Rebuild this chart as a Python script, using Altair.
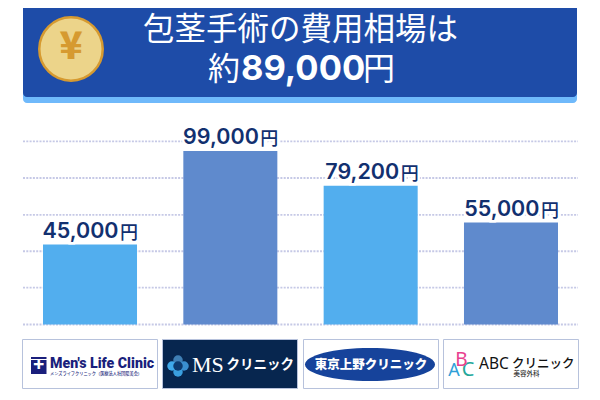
import altair as alt
import pandas as pd

clinics = ["Men's Life Clinic", "MSクリニック", "東京上野クリニック", "ABCクリニック"]
prices = [45000, 99000, 79200, 55000]
drawn_heights = [45600, 99000, 79200, 58200]
price_labels = ["45,000", "99,000", "79,200", "55,000"]
bar_colors = ["#52aeee", "#5f8acd", "#52aeee", "#5f8acd"]
grid_values = [0, 21000, 41800, 62600, 83600, 104500]

JP = "Noto Sans CJK JP"
NAVY = "#12306f"
OX, OY = 8, 8

df = pd.DataFrame({"clinic": clinics, "price": prices, "h": drawn_heights,
                   "label": price_labels, "color": bar_colors})
grid = pd.DataFrame({"g": grid_values})

xs = alt.Scale(domain=clinics, range=[35, 550], paddingInner=0.33, paddingOuter=0)
ys = alt.Scale(domain=[0, 99000], range=[316.5, 143], nice=False, zero=False)
X = alt.X("clinic:N", scale=xs, axis=None, sort=clinics)
Y = alt.Y("h:Q", scale=ys, axis=None)


def box(x0, x1, y0, y1, fill, stroke=None, sw=0, r=0):
    kw = dict(fill=fill, cornerRadius=r)
    if stroke:
        kw.update(stroke=stroke, strokeWidth=sw)
    return alt.Chart(df.head(1)).mark_rect(**kw).encode(
        x=alt.value(x0 - OX), x2=alt.value(x1 - OX),
        y=alt.value(y0 - OY), y2=alt.value(y1 - OY))


def txt(s, x, y, size, color, weight=400, font=JP, align="left", **kw):
    return alt.Chart(df.head(1)).mark_text(
        text=s, fontSize=size, color=color, fontWeight=weight, font=font,
        align=align, baseline="middle", **kw
    ).encode(x=alt.value(x - OX), y=alt.value(y - OY))


def dot(x, y, size, color, shape="circle", **kw):
    return alt.Chart(df.head(1)).mark_point(
        shape=shape, size=size, filled=True, fill=color, opacity=1, **kw
    ).encode(x=alt.value(x - OX), y=alt.value(y - OY))


layers = []
# header
layers.append(box(23, 577, 91, 103, "#6fb9fb", r=4))
layers.append(box(23, 577, 4, 97, "#1e4ca8", r=4))
layers.append(dot(71, 49, 4030, "#ecd48a", stroke="#d69a30", strokeWidth=2.5))
layers.append(txt("¥", 71, 48, 38, "#d69a30", 900, align="center"))
layers.append(txt("包茎手術の費用相場は", 300.5, 31, 31.5, "#ffffff", align="center"))
layers.append(txt("約", 208, 70, 32, "#ffffff"))
layers.append(txt("89,000", 241, 70, 34.5, "#ffffff", 700, font="Inter"))
layers.append(txt("円", 363, 70, 32, "#ffffff"))

# grid
layers.append(alt.Chart(grid).mark_rule(color="#c6c9e6", strokeWidth=1.8, strokeDash=[2, 1.3]).encode(
    y=alt.Y("g:Q", scale=ys, axis=None),
    x=alt.value(15), x2=alt.value(570)))

# bars and labels
base = alt.Chart(df)
XT = alt.X("clinic:N", scale=xs, axis=None, sort=clinics)
layers.append(base.mark_bar().encode(x=X, y=Y, y2=alt.datum(0),
                                     color=alt.Color("color:N", scale=None)))
for extra in [dict(stroke="#ffffff", strokeWidth=5), {}]:
    layers.append(base.mark_text(fontSize=21.5, font="Inter", fontWeight=600, color=NAVY,
                                 align="right", baseline="alphabetic", dx=28.5, dy=-7, **extra).encode(
        x=XT, y=Y, text="label:N"))
    layers.append(base.mark_text(text="円", fontSize=18, font=JP, fontWeight=500, color=NAVY,
                                 align="left", baseline="alphabetic", dx=30, dy=-6, **extra).encode(
        x=XT, y=Y))

# logo 1
BORDER = "#b7c2dc"
M = "#1a1f7c"
layers.append(box(22.5, 157.5, 339.5, 388.5, "#ffffff", BORDER, 1))
layers.append(box(31, 46.5, 357, 359, M))
layers.append(box(31, 46.5, 360, 374, M))
layers.append(txt("+", 38.7, 366, 18, "#ffffff", 900, align="center"))
layers.append(txt("Men's Life Clinic", 50, 363.5, 14.2, M, 900, font="Roboto"))
layers.append(txt("メンズライフクリニック（医療法人社団陽美会）", 50, 373.5, 4.2, M, 500))

# logo 2
layers.append(box(162.5, 297.5, 339.5, 388.5, "#07264f", BORDER, 1))
for cx, cy, c in [(178, 360, "#3f7fb5"), (178, 372, "#3a9fdf"), (172, 366, "#3fa9ea"),
                  (184, 366, "#3a8fd0"), (178, 366, "#0d3a6e")]:
    layers.append(dot(cx, cy, 90, c))
layers.append(txt("MS", 192, 365, 22, "#ffffff", 400, font="Liberation Serif"))
layers.append(txt("クリニック", 226.5, 365, 13.5, "#ffffff", 700))

# logo 3
layers.append(box(303.5, 438.5, 339.5, 388.5, "#ffffff", BORDER, 1))
layers.append(alt.Chart(df.head(1)).mark_point(
    shape="M-1,0A1,0.254,0,1,1,1,0A1,0.254,0,1,1,-1,0Z", size=16900, filled=True,
    fill="#16439b", opacity=1).encode(x=alt.value(370 - OX), y=alt.value(364.5 - OY)))
layers.append(txt("東京上野クリニック", 371, 364.5, 12.5, "#ffffff", 900, align="center"))

# logo 4
layers.append(box(443.5, 578.5, 339.5, 388.5, "#ffffff", BORDER, 1))
layers.append(txt("A", 454, 370.5, 18, "#2f9fd8", font="Noto Sans", align="center"))
layers.append(txt("C", 468, 369.5, 20, "#23a79a", font="Noto Sans", align="center"))
layers.append(txt("B", 461.5, 360, 19, "#e8408f", font="Noto Sans", align="center"))
layers.append(txt("ABC", 479, 363.5, 15.5, "#111111", 400, font="Noto Sans"))
layers.append(txt("クリニック", 512, 363.5, 12.5, "#111111", 500))
layers.append(txt("美容外科", 526.5, 373.5, 6.5, "#333333", 500, align="center"))

chart = alt.layer(*layers).resolve_scale(color="independent").properties(
    width=584, height=384, padding=0,
    autosize=alt.AutoSizeParams(type="none"),
    background="#ffffff",
    view=alt.ViewConfig(stroke=None),
)
chart.save("out.html", embed_options={"renderer": "svg", "actions": False})
